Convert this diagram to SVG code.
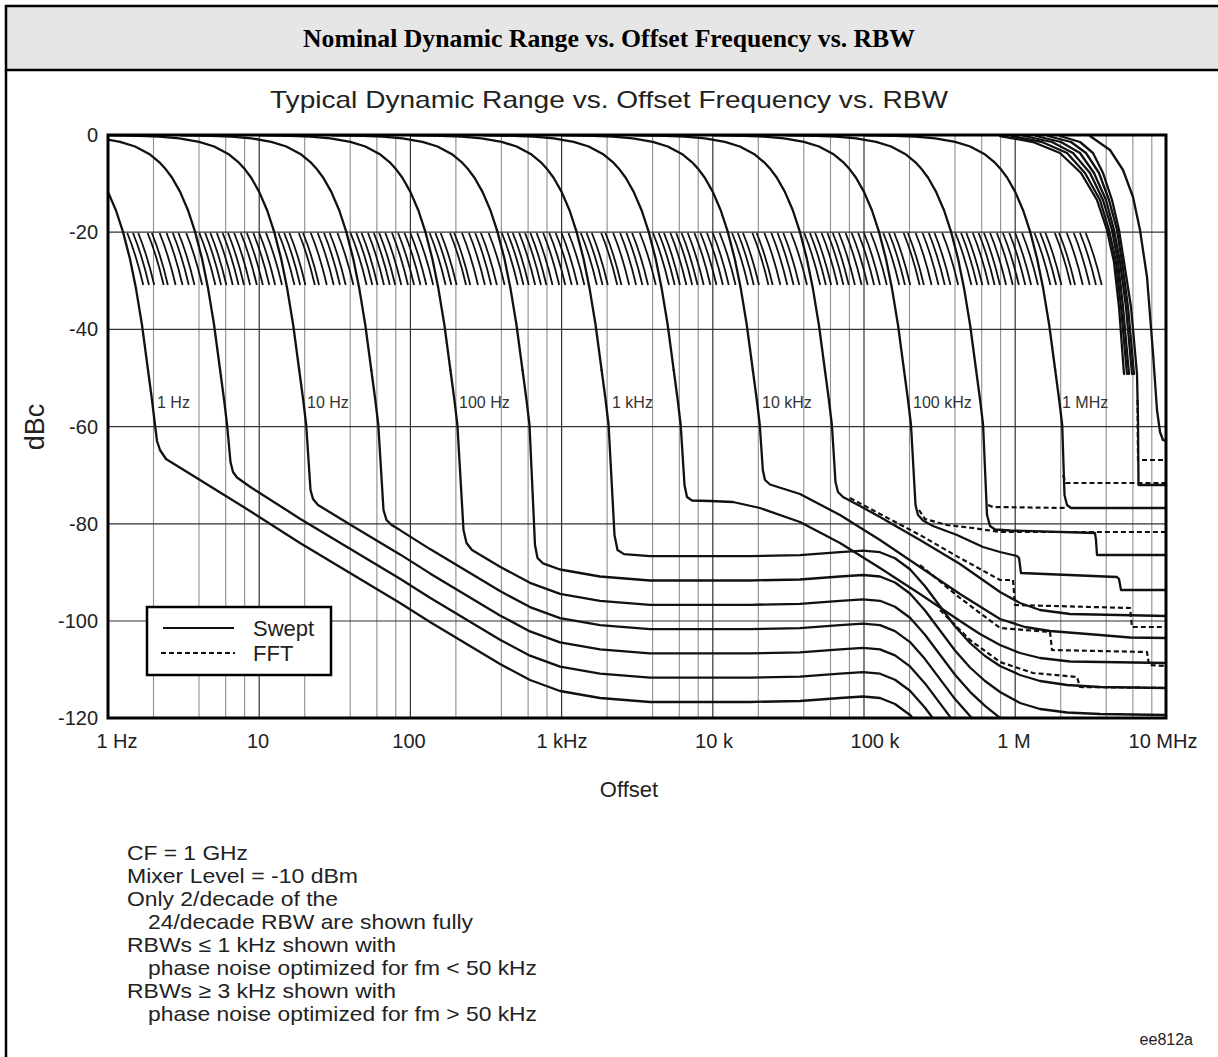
<svg xmlns="http://www.w3.org/2000/svg" xmlns:xlink="http://www.w3.org/1999/xlink" width="1218" height="1057" viewBox="0 0 1218 1057">
<style>
.t{font-family:"Liberation Sans",Arial,sans-serif;fill:#222}
.c{fill:none;stroke:#111;stroke-width:2.3;stroke-linejoin:round;stroke-linecap:round}
.d{fill:none;stroke:#111;stroke-width:2.2;stroke-dasharray:5 3}
.h{fill:none;stroke:#111;stroke-width:1.8}
.gmin{fill:none;stroke:#8f8f8f;stroke-width:1.1}
.gmaj{fill:none;stroke:#333;stroke-width:1.2}
.lbl{font-family:"Liberation Sans",Arial,sans-serif;font-size:16px;fill:#333}
</style>
<defs>
<clipPath id="pc"><rect x="108" y="134" width="1058" height="584"/></clipPath>
<path id="sk" d="M-150,135.3 L-120,135.8 L-100,136.6 L-80,138.3 L-60,141.8 L-45,146.5 L-30,154.6 L-20,162.9 L-15,168.4 L-8,177.8 L0,191.9 L8,210.5 L15,231.9 L22,259 L28,288.6 L34,325 L40,370"/>
<path id="h" d="M13,233 Q22,255 29,285"/>
<g id="dec1">
<use href="#h" x="6.26"/><use href="#h" x="11.97"/><use href="#h" x="17.23"/><use href="#h" x="26.63"/><use href="#h" x="30.86"/><use href="#h" x="38.6"/><use href="#h" x="45.52"/><use href="#h" x="51.78"/><use href="#h" x="57.49"/>
</g>
<g id="dec">
<use href="#dec1"/>
<use href="#h" x="65.22"/><use href="#h" x="78.4"/><use href="#h" x="84.11"/><use href="#h" x="89.37"/><use href="#h" x="95.79"/><use href="#h" x="101.62"/><use href="#h" x="106.99"/><use href="#h" x="113.13"/><use href="#h" x="119.81"/><use href="#h" x="125.88"/><use href="#h" x="132.31"/><use href="#h" x="138.17"/><use href="#h" x="145"/>
</g>
</defs>

<rect width="1218" height="1057" fill="#fff"/>

<g id="frame">
<rect x="6" y="6" width="1230" height="64" fill="#e6e6e6" stroke="#000" stroke-width="2.5"/>
<line x1="6" y1="70" x2="6" y2="1062" stroke="#000" stroke-width="2.5"/>
<text x="609" y="47" text-anchor="middle" font-family="'Liberation Serif','Times New Roman',serif" font-weight="bold" font-size="25" textLength="612" lengthAdjust="spacingAndGlyphs" fill="#000">Nominal Dynamic Range vs. Offset Frequency vs. RBW</text>
</g>

<text class="t" x="609" y="108" text-anchor="middle" font-size="24" textLength="678" lengthAdjust="spacingAndGlyphs">Typical Dynamic Range vs. Offset Frequency vs. RBW</text>

<g id="grid">
<path class="gmin" d="M153.5,135V718M199,135V718M225.7,135V718M244.6,135V718M304.7,135V718M350.2,135V718M376.9,135V718M395.8,135V718M455.9,135V718M501.4,135V718M528.1,135V718M547,135V718M607.1,135V718M652.6,135V718M679.3,135V718M698.2,135V718M758.3,135V718M803.8,135V718M830.5,135V718M849.4,135V718M909.5,135V718M955,135V718M981.7,135V718M1000.6,135V718M1060.7,135V718M1106.2,135V718M1132.9,135V718M1151.8,135V718"/>
<path class="gmaj" d="M259.2,135V718M410.4,135V718M561.6,135V718M712.8,135V718M864,135V718M1015.2,135V718M108,232.2H1166M108,329.4H1166M108,426.6H1166M108,523.8H1166M108,621H1166"/>
</g>

<g id="hatch" class="h">
<use href="#dec" x="108"/><use href="#dec" x="259.2"/><use href="#dec" x="410.4"/><use href="#dec" x="561.6"/><use href="#dec" x="712.8"/><use href="#dec" x="864"/><use href="#dec1" x="1015.2"/>
</g>

<g id="connectors" clip-path="url(#pc)">
<g class="c">
<use href="#sk" x="108"/><use href="#sk" x="180.1"/><use href="#sk" x="259.2"/><use href="#sk" x="331.3"/><use href="#sk" x="410.4"/><use href="#sk" x="482.5"/><use href="#sk" x="561.6"/><use href="#sk" x="633.7"/><use href="#sk" x="712.8"/><use href="#sk" x="784.9"/><use href="#sk" x="864"/><use href="#sk" x="936.1"/><use href="#sk" x="1015.2"/>
<path d="M148,370 L152,400 L155,425 L157,441 L160,450 L166,459 L200,480 L250,511 L300,543 L350,573 L400,603 L430,622 L460,640 L500,664 L530,680 L560,691 L600,698 L650,702 L750,702 L800,701 L840,698 L863,696.5 L880,698 L895,704 L910,715 L925,732"/>
<path d="M220.1,370 L224.1,400 L227.1,425 L230.5,462 L233,472 L237,477.5 L250,486.7 L300,518.7 L350,548.7 L400,578.7 L430,597.7 L460,615.7 L500,639.7 L530,655.7 L560,666.7 L600,673.7 L650,677.7 L750,677.7 L800,676.7 L840,673.7 L863,672.2 L880,673.7 L895,679.7 L910,690.7 L925,707.7 L940,727.7"/>
<path d="M299.2,370 L303.2,400 L306.2,425 L310.5,490 L313,499 L318,505 L350,524.4 L400,554.4 L430,573.4 L460,591.4 L500,615.4 L530,631.4 L560,642.4 L600,649.4 L650,653.4 L750,653.4 L800,652.4 L840,649.4 L863,647.9 L880,649.4 L895,655.4 L910,666.4 L925,683.4 L940,703.4 L955,723.4"/>
<path d="M371.3,370 L375.3,400 L378.3,425 L383.5,510 L386.5,520 L392,525.3 L400,530.1 L430,549.1 L460,567.1 L500,591.1 L530,607.1 L560,618.1 L600,625.1 L650,629.1 L750,629.1 L800,628.1 L840,625.1 L863,623.6 L880,625.1 L895,631.1 L910,642.1 L925,659.1 L940,679.1 L955,699.1 L970,716.1 L985,730.1"/>
<path d="M450.4,370 L454.4,400 L457.4,425 L463.5,530 L466.5,543 L472,550 L500,566.8 L530,582.8 L560,593.8 L600,600.8 L650,604.8 L750,604.8 L800,603.8 L840,600.8 L863,599.3 L880,600.8 L895,606.8 L910,617.8 L925,634.8 L940,654.8 L955,674.8 L970,691.8 L985,705.8 L1000,717.8 L1020,730.8"/>
<path d="M522.5,370 L526.5,400 L529.5,425 L535,545 L537.5,558 L543,563.3 L560,569.5 L600,576.5 L650,580.5 L750,580.5 L800,579.5 L840,576.5 L863,575 L880,576.5 L895,582.5 L910,593.5 L925,610.5 L940,630.5 L955,650.5 L970,667.5 L985,681 L1000,692 L1020,703 L1040,709 L1067,712.5 L1100,714 L1166,715"/>
<path d="M601.6,370 L605.6,400 L608.6,425 L614.5,535 L617.5,550 L624,554.1 L650,556.2 L750,556.2 L800,555.2 L840,552.2 L863,550.7 L880,552.2 L895,558.2 L910,569.2 L925,586.2 L940,606.2 L955,626.2 L970,643 L985,656 L1000,666 L1020,675 L1040,681 L1067,685 L1100,687 L1166,688"/>
<path d="M673.7,370 L677.7,400 L680.7,425 L684.5,485 L687,497 L692,500.5 L710,501 L733,502 L760,508 L800,522 L840,543 L880,568 L920,594 L960,621 L980,634 L1000,645 L1020,653 L1040,658 L1070,661.5 L1166,663"/>
<path d="M752.8,370 L756.8,400 L759.8,425 L762.8,470 L765,480 L770,484.5 L800,494 L840,515 L880,540 L920,567 L960,594 L1000,619 L1025,627 L1050,631 L1100,635 L1130,637.5 L1166,638"/>
<path d="M824.9,370 L828.9,400 L831.9,425 L835.5,482 L838,492 L843,497 L860,506 L880,517 L920,540 L960,564 L1000,592 L1020,603 L1040,610 L1070,614 L1166,616"/>
<path d="M904,370 L908,400 L911,425 L915.5,505 L918,515 L923,520.5 L933,526 L957,535 L983,547 L1000,552 L1017,556 L1019,558 L1021,573 L1117,577 L1119,579 L1121,590 L1166,590"/>
<path d="M976.1,370 L980.1,400 L983.1,425 L987,515 L990,526 L995,529.5 L1010,530.5 L1095,533 L1096,540 L1097,555 L1166,555"/>
<path d="M1055.2,370 L1059.2,400 L1062.2,425 L1064.5,495 L1067,505 L1071,508 L1166,508"/>
<path d="M1000,136 L1033,142 L1060,153 L1081,173 L1097,200 L1107,230 L1114,262 L1119,307 L1124,374"/>
<path d="M1012,136 L1042,142 L1067,153 L1085,173 L1100,200 L1109,230 L1116,262 L1121,307 L1127,374"/>
<path d="M1024,136 L1052,142 L1073,153 L1090,173 L1103,200 L1112,230 L1118,262 L1123,307 L1129,374"/>
<path d="M1036,136 L1061,142 L1080,153 L1094,173 L1106,200 L1114,230 L1120,262 L1126,307 L1132,374"/>
<path d="M1048,136 L1071,142 L1086,153 L1099,173 L1109,200 L1117,230 L1122,262 L1128,307 L1134,374"/>
<path d="M1060,136 L1080,142 L1093,153 L1103,173 L1112,200 L1119,230 L1124,262 L1131,307 L1137,374 L1138,420 L1138.5,485 L1166,485"/>
<path d="M1090,136 L1110,150 L1123,170 L1133,197 L1140,230 L1147,277 L1153,353 L1157,410 L1160,432 L1163,440 L1166,441"/>
</g>
<g class="d">
<path d="M919,510 L925,519 L947,525 L973,528 L1000,532 L1166,532"/>
<path d="M988,505 L993,507 L1067,508"/>
<path d="M1063,475 L1066,483 L1166,483"/>
<path d="M850,498 L880,514 L920,535 L960,558 L1000,580 L1013,580 L1015,605 L1130,608 L1132,627 L1166,627"/>
<path d="M920,565 L960,598 L1000,628 L1050,632 L1052,650 L1147,652 L1149,665 L1166,666"/>
<path d="M940,610 L970,640 L1000,662 L1033,673 L1077,677 L1080,687 L1166,688"/>
<path d="M1137.5,400 L1138,460 L1166,460"/>
</g>
</g>

<rect x="108" y="135" width="1058" height="583" fill="none" stroke="#000" stroke-width="3"/>

<g id="rbw-labels">
<text class="lbl" x="157" y="408">1 Hz</text>
<text class="lbl" x="307" y="408">10 Hz</text>
<text class="lbl" x="459" y="408">100 Hz</text>
<text class="lbl" x="612" y="408">1 kHz</text>
<text class="lbl" x="762" y="408">10 kHz</text>
<text class="lbl" x="913" y="408">100 kHz</text>
<text class="lbl" x="1062" y="408">1 MHz</text>
</g>

<g id="legend">
<rect x="147" y="607" width="184" height="68" fill="#fff" stroke="#000" stroke-width="2.5"/>
<line x1="163" y1="628" x2="234" y2="628" stroke="#111" stroke-width="2.2"/>
<line x1="161" y1="653" x2="235" y2="653" stroke="#111" stroke-width="2.2" stroke-dasharray="5 3"/>
<text class="t" x="253" y="636" font-size="22">Swept</text>
<text class="t" x="253" y="661" font-size="22">FFT</text>
</g>

<g id="y-axis" class="t" font-size="20" text-anchor="end">
<text x="98" y="142">0</text>
<text x="98" y="239">-20</text>
<text x="98" y="336">-40</text>
<text x="98" y="434">-60</text>
<text x="98" y="531">-80</text>
<text x="98" y="628">-100</text>
<text x="98" y="725">-120</text>
</g>
<text class="t" transform="translate(44,427) rotate(-90)" text-anchor="middle" font-size="27">dBc</text>

<g id="x-axis" class="t" font-size="20" text-anchor="middle">
<text x="117" y="748">1 Hz</text>
<text x="258" y="748">10</text>
<text x="409" y="748">100</text>
<text x="562" y="748">1 kHz</text>
<text x="714" y="748">10 k</text>
<text x="875" y="748">100 k</text>
<text x="1014" y="748">1 M</text>
<text x="1163" y="748">10 MHz</text>
</g>
<text class="t" x="629" y="797" text-anchor="middle" font-size="22">Offset</text>

<g id="notes" class="t" font-size="21">
<text x="127" y="860" textLength="121" lengthAdjust="spacingAndGlyphs">CF = 1 GHz</text>
<text x="127" y="883" textLength="231" lengthAdjust="spacingAndGlyphs">Mixer Level = -10 dBm</text>
<text x="127" y="906" textLength="211" lengthAdjust="spacingAndGlyphs">Only 2/decade of the</text>
<text x="148" y="929" textLength="325" lengthAdjust="spacingAndGlyphs">24/decade RBW are shown fully</text>
<text x="127" y="952" textLength="269" lengthAdjust="spacingAndGlyphs">RBWs ≤ 1 kHz shown with</text>
<text x="148" y="975" textLength="389" lengthAdjust="spacingAndGlyphs">phase noise optimized for fm &lt; 50 kHz</text>
<text x="127" y="998" textLength="269" lengthAdjust="spacingAndGlyphs">RBWs ≥ 3 kHz shown with</text>
<text x="148" y="1021" textLength="389" lengthAdjust="spacingAndGlyphs">phase noise optimized for fm &gt; 50 kHz</text>
</g>
<text class="t" x="1193" y="1045" text-anchor="end" font-size="16" fill="#333">ee812a</text>
</svg>
